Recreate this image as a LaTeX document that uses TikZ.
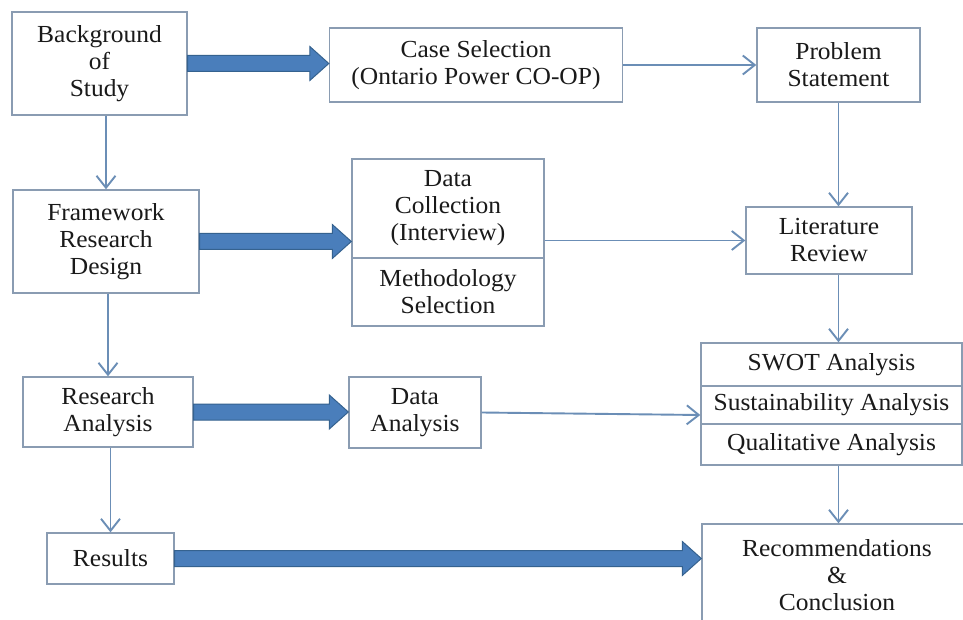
\documentclass[tikz,border=0pt]{standalone}
\usepackage{fontspec}
\setmainfont{Liberation Serif}[FakeStretch=1.04]
\usetikzlibrary{arrows.meta,calc}
\definecolor{boxline}{HTML}{8A9CB2}
\definecolor{thinarrow}{HTML}{6B8EB6}
\definecolor{fatfillc}{HTML}{4A7EBB}
\definecolor{fatedgec}{HTML}{35628F}
\definecolor{txt}{HTML}{1A1A1A}
\newcommand{\fatarrow}[2]{%
 \filldraw[fatstyle] ($(#1)+(0,-8)$) -- ($(#2)+(-19,-8)$) -- ($(#2)+(-19,-17)$) -- (#2) -- ($(#2)+(-19,17)$) -- ($(#2)+(-19,8)$) -- ($(#1)+(0,8)$) -- cycle;}
\begin{document}
\begin{tikzpicture}[x=1pt,y=-1pt,
 box/.style={draw=boxline, line width=1.4pt, fill=white, inner sep=0pt, align=center, text=txt, font=\fontsize{24.5}{27}\selectfont},
 thin/.style={draw=thinarrow, line width=1.9pt, -{Straight Barb[length=12pt,width=19pt,line width=1.9pt]}},
 fatstyle/.style={fill=fatfillc, draw=fatedgec, line width=1pt, line join=miter}]
\useasboundingbox (0,0) rectangle (963,620);
\fill[white] (0,0) rectangle (963,620);
\clip (0,0) rectangle (963,620);

\node[box, minimum width=175pt, minimum height=103pt] (bg) at (99.5,63.5) {Background\\of\\Study};
\node[box, minimum width=293pt, minimum height=74pt] (case) at (476,65) {Case Selection\\(Ontario Power CO-OP)};
\node[box, minimum width=163pt, minimum height=74pt] (prob) at (838.5,65) {Problem\\Statement};
\node[box, minimum width=186pt, minimum height=103pt] (frame) at (106,241.5) {Framework\\Research\\Design};
\node[box, minimum width=192pt, minimum height=99pt] (dc1) at (448,208.5) {Data\\Collection\\(Interview)};
\node[box, minimum width=192pt, minimum height=68pt] (dc2) at (448,292) {Methodology\\Selection};
\node[box, minimum width=166pt, minimum height=67pt] (lit) at (829,240.5) {Literature\\Review};
\node[box, minimum width=170pt, minimum height=70pt] (ra) at (108,412) {Research\\Analysis};
\node[box, minimum width=132pt, minimum height=71pt] (da) at (415,412.5) {Data\\Analysis};
\node[box, minimum width=261pt, minimum height=43pt] (swot1) at (831.5,364.5) {SWOT Analysis};
\node[box, minimum width=261pt, minimum height=38pt] (swot2) at (831.5,405) {Sustainability Analysis};
\node[box, minimum width=261pt, minimum height=41pt] (swot3) at (831.5,444.5) {Qualitative Analysis};
\node[box, minimum width=127pt, minimum height=51pt] (res) at (110.5,558.5) {Results};
\node[box, minimum width=270pt, minimum height=102pt] (rec) at (837,575) {Recommendations\\\&\\Conclusion};

% thick arrows
\coordinate (f1e) at (case.west |- bg.east);
\coordinate (f2e) at (dc1.west |- frame.east);
\coordinate (f3e) at (da.west |- ra.east);
\coordinate (f4e) at (rec.west |- res.east);
\fatarrow{bg.east}{f1e}
\fatarrow{frame.east}{f2e}
\fatarrow{ra.east}{f3e}
\fatarrow{res.east}{f4e}

% thin arrows
\coordinate (swotin) at ($(swot2.west)+(0,10)$);
\draw[thin] (case.east) -- (prob.west);
\draw[thin] (prob.south) -- (prob.south |- lit.north);
\draw[thin] (dc1.east |- lit.west) -- (lit.west);
\draw[thin] (lit.south -| prob.south) -- (swot1.north -| prob.south);
\draw[thin] (da.east) -- (swotin);
\draw[thin] (swot3.south -| prob.south) -- (rec.north -| prob.south);
\draw[thin] (bg.south -| frame.north) -- (frame.north);
\draw[thin] (ra.north |- frame.south) -- (ra.north);
\draw[thin] (res.north |- ra.south) -- (res.north);
\end{tikzpicture}
\end{document}
